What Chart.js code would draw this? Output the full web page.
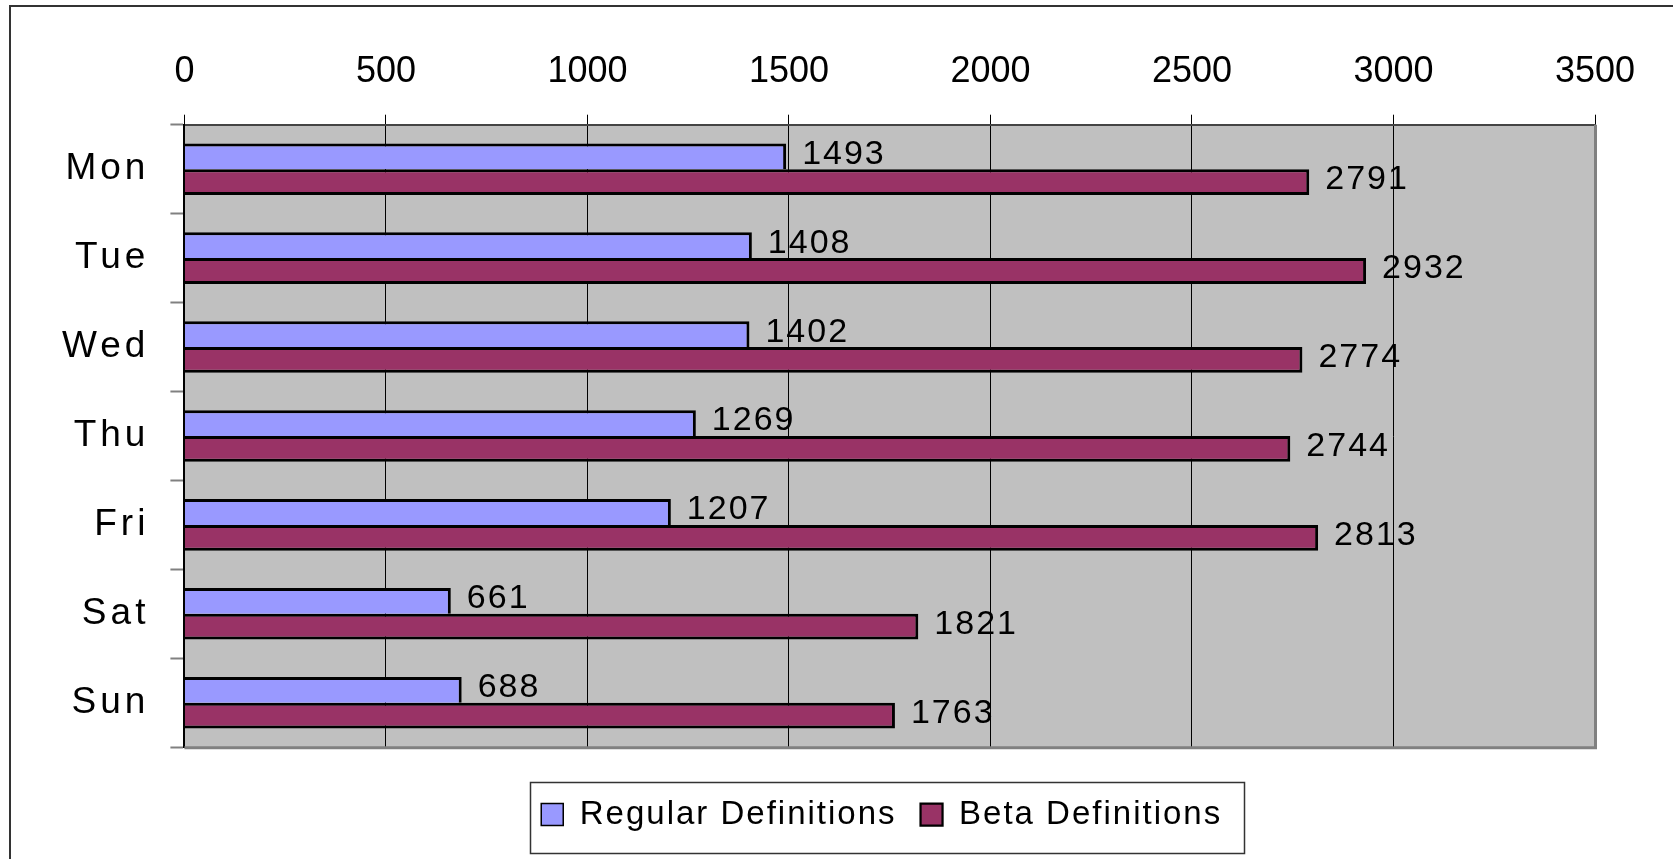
<!DOCTYPE html>
<html>
<head>
<meta charset="utf-8">
<script src="https://cdn.jsdelivr.net/npm/chart.js@4"></script>
<style>
  html, body { margin: 0; padding: 0; background: #fff; }
  #wrap { width: 1673px; height: 859px; position: relative; }
</style>
</head>
<body>
<div id="wrap"><canvas id="defsChart"></canvas></div>
<script>
var days = ['Mon', 'Tue', 'Wed', 'Thu', 'Fri', 'Sat', 'Sun'];
var regularDefs = [1493, 1408, 1402, 1269, 1207, 661, 688];
var betaDefs = [2791, 2932, 2774, 2744, 2813, 1821, 1763];
var xTicks = [0, 500, 1000, 1500, 2000, 2500, 3000, 3500];

var FONT = '"Liberation Sans", Arial, sans-serif';

// run a method of a chart box with some letter spacing on the canvas
function spaced(obj, name, sp) {
    var orig = obj[name];
    obj[name] = function () {
        var c = this.ctx, old = c.letterSpacing;
        c.letterSpacing = sp;
        var r = orig.apply(this, arguments);
        c.letterSpacing = old || '0px';
        return r;
    };
}

var decor = {
    id: 'decor',
    beforeUpdate: function (chart) {
        if (chart.legend && !chart.legend._spaced) {
            spaced(chart.legend, 'fit', '2px');
            spaced(chart.legend, 'draw', '2px');
            chart.legend._spaced = true;
        }
    },
    afterLayout: function (chart) {
        var y = chart.scales.y;
        if (y && !y._spaced) {
            spaced(y, 'drawLabels', '4px');
            y._spaced = true;
        }
        // legend sits a little left of the plot centre
        chart.legend.left -= 8;
        chart.legend.right -= 8;
    },
    beforeDraw: function (chart) {
        var c = chart.ctx, a = chart.chartArea;
        c.save();
        c.fillStyle = '#c0c0c0';
        c.fillRect(a.left, a.top, a.right - a.left, a.bottom - a.top);
        c.strokeStyle = '#333';
        c.lineWidth = 2;
        c.strokeRect(10, 6, 3000, 3000);
        c.restore();
    },
    afterDraw: function (chart) {
        var c = chart.ctx, a = chart.chartArea;
        c.save();
        c.strokeStyle = '#808080';
        c.lineWidth = 3;
        c.beginPath();
        c.moveTo(a.right + 0.5, a.top);
        c.lineTo(a.right + 0.5, a.bottom + 0.5);
        c.lineTo(a.left, a.bottom + 0.5);
        c.stroke();
        // box round the legend
        var hb = chart.legend.legendHitBoxes;
        if (hb && hb.length) {
            var l = hb[0].left, r = hb[hb.length - 1].left + hb[hb.length - 1].width;
            var t = hb[0].top, h = hb[0].height;
            c.strokeStyle = '#333';
            c.lineWidth = 1.5;
            c.strokeRect(Math.round(l - 11) + 0.5, Math.round(t - 16) + 0.5, Math.round(r - l + 33), Math.round(h + 38));
        }
        c.restore();
    },
    afterDatasetsDraw: function (chart) {
        var c = chart.ctx;
        c.save();
        c.font = '34px ' + FONT;
        c.letterSpacing = '2px';
        c.fillStyle = '#000';
        c.textAlign = 'left';
        c.textBaseline = 'middle';
        chart.data.datasets.forEach(function (ds, i) {
            chart.getDatasetMeta(i).data.forEach(function (bar, j) {
                c.fillText(String(ds.data[j]), bar.x + 16, bar.y - 2);
            });
        });
        c.restore();
    }
};

var ctx = document.getElementById('defsChart').getContext('2d');
var chart = new Chart(ctx, {
    type: 'bar',
    data: {
        labels: days,
        datasets: [{
            label: 'Regular Definitions',
            data: regularDefs,
            backgroundColor: '#9999ff',
            borderColor: '#000',
            borderWidth: { top: 3, right: 3, bottom: 0, left: 0 },
            borderSkipped: false
        }, {
            label: 'Beta Definitions',
            data: betaDefs,
            backgroundColor: '#993366',
            borderColor: '#000',
            borderWidth: { top: 3, right: 3, bottom: 3, left: 0 },
            borderSkipped: false
        }]
    },
    options: {
        indexAxis: 'y',
        responsive: true,
        maintainAspectRatio: false,
        animation: false,
        layout: { padding: { left: 53, right: 78, top: 28.5, bottom: 18 } },
        datasets: { bar: { barPercentage: 1, categoryPercentage: 0.58 } },
        scales: {
            x: {
                position: 'top',
                min: 0,
                max: 3500,
                afterBuildTicks: function (s) { s.ticks = xTicks.map(function (v) { return { value: v }; }); },
                grid: { color: '#000', lineWidth: 1, tickLength: 10, tickColor: '#000' },
                border: { color: '#444', width: 2 },
                ticks: {
                    color: '#000', padding: 21.5, maxRotation: 0,
                    font: { family: FONT, size: 36 },
                    callback: function (v) { return String(v); }
                }
            },
            y: {
                grid: { drawOnChartArea: false, tickLength: 14, tickColor: '#808080', tickWidth: 2 },
                border: { color: '#000', width: 2 },
                ticks: { color: '#000', padding: 21, font: { family: FONT, size: 37 } }
            }
        },
        plugins: {
            legend: {
                position: 'bottom',
                fullSize: false,
                title: { display: true, text: '', font: { size: 1 }, padding: { top: 25.6, bottom: 0 } },
                labels: {
                    color: '#000',
                    boxWidth: 22,
                    boxHeight: 22,
                    padding: 24,
                    font: { family: FONT, size: 33 }
                }
            },
            tooltip: { enabled: false }
        }
    },
    plugins: [decor]
});
</script>
</body>
</html>
